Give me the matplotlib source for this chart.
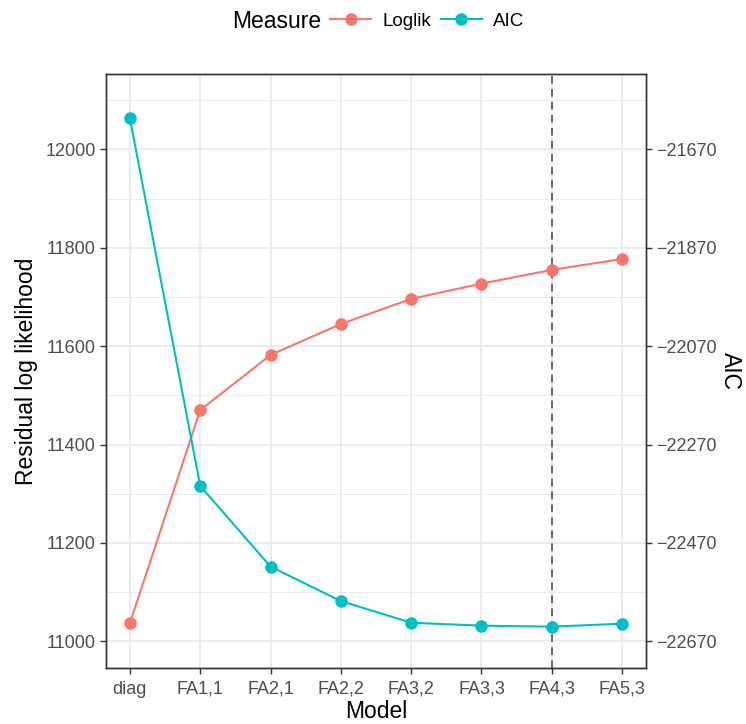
import matplotlib
matplotlib.use("Agg")
import matplotlib.pyplot as plt
from matplotlib.lines import Line2D
from matplotlib.ticker import MultipleLocator

plt.rcParams['font.family'] = ['Liberation Sans', 'DejaVu Sans']

models = ["diag", "FA1,1", "FA2,1", "FA2,2", "FA3,2", "FA3,3", "FA4,3", "FA5,3"]
loglik = [11037, 11470, 11582, 11645, 11696, 11727, 11755, 11777]
aic = [-21607, -22354, -22518, -22588, -22632, -22638, -22640, -22634]
aic_shift = 33670
chosen = "FA4,3"

col_ll = "#F8766D"
col_aic = "#00BFC4"

fig = plt.figure(figsize=(7.46, 7.24), dpi=100)
ax = fig.add_axes([106/746, 56/724, 540/746, 594/724])
ax2 = ax.twinx()

x = list(range(len(models)))
ylo, yhi = 10946, 12153
ax.set_xlim(-0.34, len(models) - 1 + 0.34)
ax.set_ylim(ylo, yhi)
ax2.set_ylim(ylo - aic_shift, yhi - aic_shift)

ax.yaxis.set_major_locator(MultipleLocator(200))
ax.yaxis.set_minor_locator(MultipleLocator(100))
ax2.set_yticks([t - aic_shift for t in range(11000, 12001, 200)])
ax2.set_yticklabels([f"\u2212{abs(t - aic_shift)}" for t in range(11000, 12001, 200)])

ax.set_xticks(x)
ax.set_xticklabels(models)

ax.grid(True, which="major", color="#EBEBEB", lw=1.3, zorder=0)
ax.grid(True, which="minor", axis="y", color="#EBEBEB", lw=0.7, zorder=0)
ax.set_axisbelow(True)

ax.axvline(models.index(chosen), color="#404040", lw=1.1, ls=(0, (5, 3.5)), zorder=1)

ax.plot(x, loglik, color=col_ll, lw=1.5, marker="o", ms=8, zorder=3)
ax2.plot(x, aic, color=col_aic, lw=1.5, marker="o", ms=8, zorder=3)

for a in (ax, ax2):
    for s in a.spines.values():
        s.set_color("#333333")
        s.set_linewidth(1.0)
    a.tick_params(colors="#333333", labelcolor="#4D4D4D", labelsize=13, length=4, width=1.0)
ax.tick_params(which="minor", length=0)
ax.tick_params(axis="x", pad=5)

ax.set_xlabel("Model", fontsize=16.5, labelpad=2)
ax.set_ylabel("Residual log likelihood", fontsize=16.5, labelpad=5)
ax2.set_ylabel("AIC", fontsize=16.5, rotation=270, labelpad=18)

# legend
fig.text(232/746, 1 - 21/724, "Measure", fontsize=16.5, ha="left", va="center")
handles = [Line2D([], [], color=col_ll, lw=1.5, marker="o", ms=8),
           Line2D([], [], color=col_aic, lw=1.5, marker="o", ms=8)]
fig.legend(handles, ["Loglik", "AIC"], loc="center left", bbox_to_anchor=(330/746, 1 - 21/724),
           ncol=2, frameon=False, fontsize=13.5, handlelength=2.2, handletextpad=0.6,
           columnspacing=0.5, borderaxespad=0, borderpad=0)

fig.savefig("out.png", dpi=100)
